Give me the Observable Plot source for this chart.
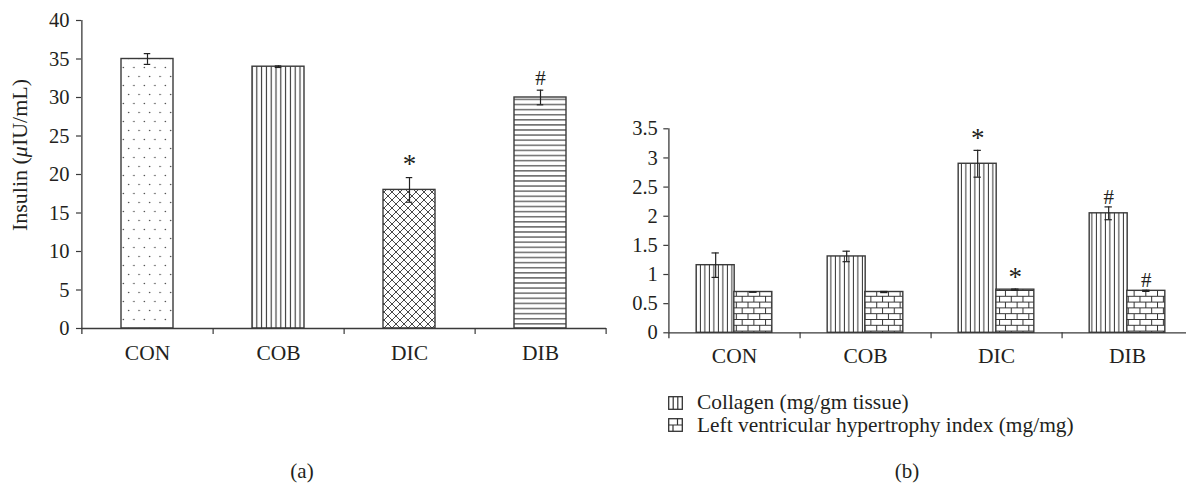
<!DOCTYPE html>
<html>
<head>
<meta charset="utf-8">
<script src="https://cdn.jsdelivr.net/npm/d3@7"></script>
<script src="https://cdn.jsdelivr.net/npm/@observablehq/plot@0.6"></script>
<style>
  body { margin: 0; background: #fff; }
  #wrap { position: relative; width: 1186px; height: 485px; overflow: hidden;
          font-family: "Liberation Serif", "Times New Roman", serif; color: #231f20; background: #fff; }
  .ylab { position: absolute; white-space: nowrap; font-size: 22px; transform-origin: center center; }
  .cap { position: absolute; font-size: 21px; width: 60px; text-align: center; }
  .leg { position: absolute; left: 668px; font-size: 21.4px; white-space: nowrap; display: flex; align-items: center; }
  .leg svg { margin-right: 14px; }
</style>
</head>
<body>
<svg width="0" height="0" style="position:absolute">
  <defs>
    <pattern id="pDots" patternUnits="userSpaceOnUse" width="10.5" height="18">
      <rect width="10.5" height="18" fill="#fff"/>
      <circle cx="2.6" cy="4.5" r="0.75" fill="#444"/>
      <circle cx="7.9" cy="13.5" r="0.75" fill="#444"/>
    </pattern>
    <pattern id="pVlines" patternUnits="userSpaceOnUse" width="4.8" height="10">
      <rect width="4.8" height="10" fill="#fff"/>
      <line x1="2.4" y1="0" x2="2.4" y2="10" stroke="#333" stroke-width="1.1"/>
    </pattern>
    <pattern id="pCross" patternUnits="userSpaceOnUse" width="8" height="8">
      <rect width="8" height="8" fill="#fff"/>
      <path d="M0,0L8,8M8,0L0,8M-1,7L1,9M7,-1L9,1M-1,1L1,-1M7,9L9,7" stroke="#333" stroke-width="0.9"/>
    </pattern>
    <pattern id="pHlines" patternUnits="userSpaceOnUse" width="10" height="5.1">
      <rect width="10" height="5.1" fill="#fff"/>
      <line x1="0" y1="2.5" x2="10" y2="2.5" stroke="#333" stroke-width="1.1"/>
    </pattern>
    <pattern id="pVlines2" patternUnits="userSpaceOnUse" width="4.5" height="10">
      <rect width="4.5" height="10" fill="#fff"/>
      <line x1="2.2" y1="0" x2="2.2" y2="10" stroke="#333" stroke-width="1"/>
    </pattern>
    <pattern id="pBrick" patternUnits="userSpaceOnUse" width="11.7" height="11.6">
      <rect width="11.7" height="11.6" fill="#fff"/>
      <path d="M0,0.5H11.7M0,6.3H11.7M0.5,0.5V6.3M6.35,6.3V11.6" stroke="#333" stroke-width="1"/>
    </pattern>
  </defs>
</svg>
<div id="wrap"></div>
<script>
// ---------- data ----------
const groups = ["CON", "COB", "DIC", "DIB"];

// panel (a): Insulin (μIU/mL)
const insulin     = [35.0, 34.0, 18.0, 30.0];
const insulinErr  = [0.7, 0.1, 1.6, 0.95];
const insulinSig  = ["", "", "*", "#"];
const insulinTicks = [0, 5, 10, 15, 20, 25, 30, 35, 40];

// panel (b)
const seriesNames = ["Collagen (mg/gm tissue)", "Left ventricular hypertrophy index (mg/mg)"];
const collagen    = [1.16, 1.31, 2.90, 2.05];
const collagenErr = [0.21, 0.09, 0.23, 0.11];
const collagenSig = ["", "", "*", "#"];
const lvh         = [0.70, 0.70, 0.74, 0.72];
const lvhErr      = [0.005, 0.01, 0.01, 0.01];
const lvhSig      = ["", "", "*", "#"];
const bTicks = [0, 0.5, 1, 1.5, 2, 2.5, 3, 3.5];

// ---------- styling ----------
const patternsA = ["url(#pDots)", "url(#pVlines)", "url(#pCross)", "url(#pHlines)"];
const ink = "#231f20", lineC = "#3a3a3a";
const FONT = "Liberation Serif, Times New Roman, serif";
const FS = 20.5;   // tick labels
const FX = 21.5;   // category labels
const sigSize = d => d.sig === "*" ? 27 : 21;

const dataA = groups.map((g, i) => ({g, v: insulin[i], e: insulinErr[i], sig: insulinSig[i], pat: patternsA[i]}));
const dataColl = groups.map((g, i) => ({g, v: collagen[i], e: collagenErr[i], sig: collagenSig[i]}));
const dataLvh = groups.map((g, i) => ({g, v: lvh[i], e: lvhErr[i], sig: lvhSig[i]}));

const wrap = document.getElementById("wrap");
const H = 380;

// ---------- panel (a) ----------
const A = {left: 0, width: 620, ml: 81, mr: 14, mt: 20, mb: H - 328};
const stepA = (A.width - A.ml - A.mr) / groups.length;
const bwA = stepA * (1 - 0.6);
const capA = (bwA - 7) / 2;

const plotA = Plot.plot({
  width: A.width, height: H,
  marginLeft: A.ml, marginRight: A.mr, marginTop: A.mt, marginBottom: A.mb,
  style: {fontFamily: FONT, fontSize: FS + "px", color: ink, background: "transparent", overflow: "visible"},
  x: {domain: groups, paddingInner: 0.6, paddingOuter: 0.3, axis: null},
  y: {domain: [0, 40], axis: null},
  color: {type: "identity"},
  marks: [
    Plot.barY(dataA, {x: "g", y: "v", fill: "pat", stroke: lineC, strokeWidth: 1.4}),
    Plot.ruleX(dataA, {x: "g", y1: d => d.v - d.e, y2: d => d.v + d.e, stroke: "#222", strokeWidth: 1.2}),
    Plot.tickY(dataA, {x: "g", y: d => d.v + d.e, insetLeft: capA, insetRight: capA, stroke: "#222", strokeWidth: 1.2}),
    Plot.tickY(dataA, {x: "g", y: d => d.v - d.e, insetLeft: capA, insetRight: capA, stroke: "#222", strokeWidth: 1.2}),
    Plot.text(dataA.filter(d => d.sig), {x: "g", y: d => d.v + d.e, text: "sig", lineAnchor: "bottom", dy: d => 0, fontSize: sigSize, fill: ink, dy: -5}),
    Plot.ruleY([0], {stroke: lineC, strokeWidth: 1.3}),
    Plot.ruleX(groups.slice(0, 1), {x: d => d, dx: -stepA / 2, insetBottom: -6, stroke: lineC, strokeWidth: 1.3}),
    Plot.axisY({ticks: insulinTicks, tickSize: 5, tickPadding: 7, fontSize: FS, stroke: lineC, strokeWidth: 1.2, label: null}),
    Plot.axisX({tickSize: 6, dx: stepA / 2, tickFormat: () => "", stroke: lineC, strokeWidth: 1.2, label: null}),
    Plot.axisX({tickSize: 0, tickPadding: 16.5, fontSize: FX, label: null})
  ]
});
plotA.style.position = "absolute";
plotA.style.left = A.left + "px";
plotA.style.top = "0px";
wrap.appendChild(plotA);

// ---------- panel (b) ----------
const B = {left: 600, width: 593, ml: 68.3, mr: 0, mt: 128.3, mb: H - 332.3};
const stepB = (B.width - B.ml - B.mr) / groups.length;
const piB = 0.713;
const bwB = stepB * (1 - piB);
const capB = (bwB - 7) / 2;

const barSeries = (data, dx, fill) => [
  Plot.barY(data, {x: "g", y: "v", dx, fill, stroke: lineC, strokeWidth: 1.4}),
  Plot.ruleX(data, {x: "g", y1: d => d.v - d.e, y2: d => d.v + d.e, dx, stroke: "#222", strokeWidth: 1.2}),
  Plot.tickY(data, {x: "g", y: d => d.v + d.e, dx, insetLeft: capB, insetRight: capB, stroke: "#222", strokeWidth: 1.2}),
  Plot.tickY(data, {x: "g", y: d => d.v - d.e, dx, insetLeft: capB, insetRight: capB, stroke: "#222", strokeWidth: 1.2}),
  Plot.text(data.filter(d => d.sig), {x: "g", y: d => d.v + d.e, dx, text: "sig", lineAnchor: "bottom", dy: -3, fontSize: sigSize, fill: ink})
];

const plotB = Plot.plot({
  width: B.width, height: H,
  marginLeft: B.ml, marginRight: B.mr, marginTop: B.mt, marginBottom: B.mb,
  style: {fontFamily: FONT, fontSize: FS + "px", color: ink, background: "transparent", overflow: "visible"},
  x: {domain: groups, paddingInner: piB, paddingOuter: piB / 2, axis: null},
  y: {domain: [0, 3.5], axis: null},
  marks: [
    ...barSeries(dataColl, -bwB / 2, "url(#pVlines2)"),
    ...barSeries(dataLvh, bwB / 2, "url(#pBrick)"),
    Plot.ruleY([0], {stroke: lineC, strokeWidth: 1.3}),
    Plot.ruleX(groups.slice(0, 1), {x: d => d, dx: -stepB / 2, insetBottom: -6, stroke: lineC, strokeWidth: 1.3}),
    Plot.axisY({ticks: bTicks, tickSize: 5, tickPadding: 6, tickFormat: d => String(d), fontSize: FS, stroke: lineC, strokeWidth: 1.2, label: null}),
    Plot.axisX({tickSize: 6, dx: stepB / 2, tickFormat: () => "", stroke: lineC, strokeWidth: 1.2, label: null}),
    Plot.axisX({tickSize: 0, tickPadding: 14.5, fontSize: FX, label: null})
  ]
});
plotB.style.position = "absolute";
plotB.style.left = B.left + "px";
plotB.style.top = "0px";
wrap.appendChild(plotB);

// ---------- y label (a) ----------
const yl = document.createElement("div");
yl.className = "ylab";
yl.innerHTML = "Insulin (<i>μ</i>IU/mL)";
wrap.appendChild(yl);
const r = yl.getBoundingClientRect();
yl.style.left = (20 - r.width / 2) + "px";
yl.style.top = (155 - r.height / 2) + "px";
yl.style.transform = "rotate(-90deg)";

// ---------- legend (b) ----------
const swatches = [
  '<svg width="15" height="14"><rect x="0.7" y="0.7" width="13.6" height="12.6" fill="#fff" stroke="#333" stroke-width="1.3"/><path d="M5.2,0.7V13.3M9.8,0.7V13.3" stroke="#333" stroke-width="1.2"/></svg>',
  '<svg width="15" height="14"><rect x="0.7" y="0.7" width="13.6" height="12.6" fill="#fff" stroke="#333" stroke-width="1.3"/><path d="M0.7,7H14.3M9.5,0.7V7M5,7V13.3" stroke="#333" stroke-width="1.2"/></svg>'
];
seriesNames.forEach((name, i) => {
  const row = document.createElement("div");
  row.className = "leg";
  row.style.top = (390 + i * 22.5) + "px";
  row.innerHTML = swatches[i] + "<span>" + name + "</span>";
  wrap.appendChild(row);
});

// ---------- captions ----------
[["(a)", 302], ["(b)", 907]].forEach(([t, cx]) => {
  const c = document.createElement("div");
  c.className = "cap";
  c.textContent = t;
  c.style.left = (cx - 30) + "px";
  c.style.top = "459px";
  wrap.appendChild(c);
});
</script>
</body>
</html>
